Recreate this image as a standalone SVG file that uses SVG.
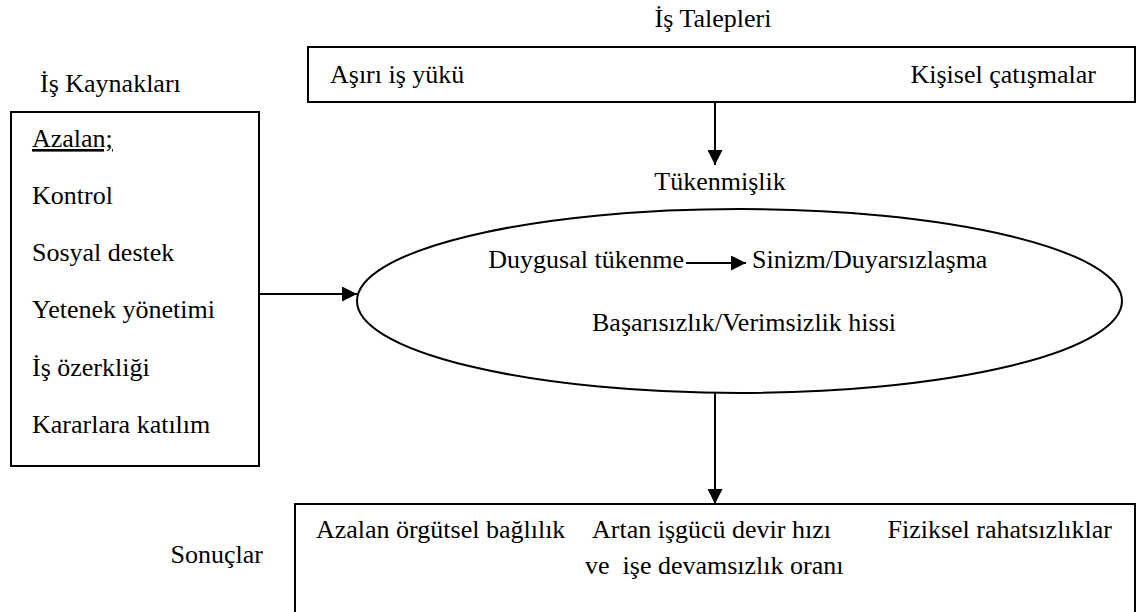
<svg xmlns="http://www.w3.org/2000/svg" width="1136" height="612" viewBox="0 0 1136 612">
<style>
text{font-family:"Liberation Serif","Times New Roman",serif;font-size:26px;fill:#000}
.box{fill:#fff;stroke:#000;stroke-width:2}
.ln{stroke:#000;stroke-width:2;fill:none}
</style>
<defs>
<marker id="ah" viewBox="0 0 15 15" refX="15" refY="7.5" markerWidth="15" markerHeight="15" markerUnits="userSpaceOnUse" orient="auto">
<path d="M0,0 L15,7.5 L0,15 Z" fill="#000"/>
</marker>
</defs>
<rect width="1136" height="612" fill="#fff"/>
<g id="talepler">
<text x="713" y="27" text-anchor="middle">İş Talepleri</text>
<rect class="box" x="308" y="47" width="827" height="55"/>
<text x="330" y="83">Aşırı iş yükü</text>
<text x="1096" y="83" text-anchor="end">Kişisel çatışmalar</text>
</g>
<g id="kaynaklar">
<text x="40" y="92">İş Kaynakları</text>
<rect class="box" x="11" y="112" width="248" height="354"/>
<text x="32" y="147" text-decoration="underline">Azalan;</text>
<text x="32" y="204">Kontrol</text>
<text x="32" y="261">Sosyal destek</text>
<text x="32" y="318">Yetenek yönetimi</text>
<text x="32" y="376">İş özerkliği</text>
<text x="32" y="433">Kararlara katılım</text>
</g>
<g id="tukenmislik">
<text x="720" y="190" text-anchor="middle">Tükenmişlik</text>
<ellipse class="box" cx="739.5" cy="301" rx="382.5" ry="92"/>
<text x="684" y="268" text-anchor="end">Duygusal tükenme</text>
<text x="752" y="268">Sinizm/Duyarsızlaşma</text>
<text x="592" y="331">Başarısızlık/Verimsizlik hissi</text>
</g>
<g id="sonuclar">
<text x="263" y="563" text-anchor="end">Sonuçlar</text>
<rect class="box" x="295" y="504" width="840" height="120"/>
<text x="316" y="538">Azalan örgütsel bağlılık</text>
<text x="592" y="538">Artan işgücü devir hızı</text>
<text x="585" y="574" xml:space="preserve">ve  işe devamsızlık oranı</text>
<text x="1112" y="538" text-anchor="end">Fiziksel rahatsızlıklar</text>
</g>
<g id="connectors">
<line class="ln" x1="715" y1="102" x2="715" y2="165" marker-end="url(#ah)"/>
<line class="ln" x1="259" y1="294" x2="357" y2="294" marker-end="url(#ah)"/>
<line class="ln" x1="686" y1="263" x2="746" y2="263" marker-end="url(#ah)"/>
<line class="ln" x1="715" y1="393" x2="715" y2="504" marker-end="url(#ah)"/>
</g>
</svg>
